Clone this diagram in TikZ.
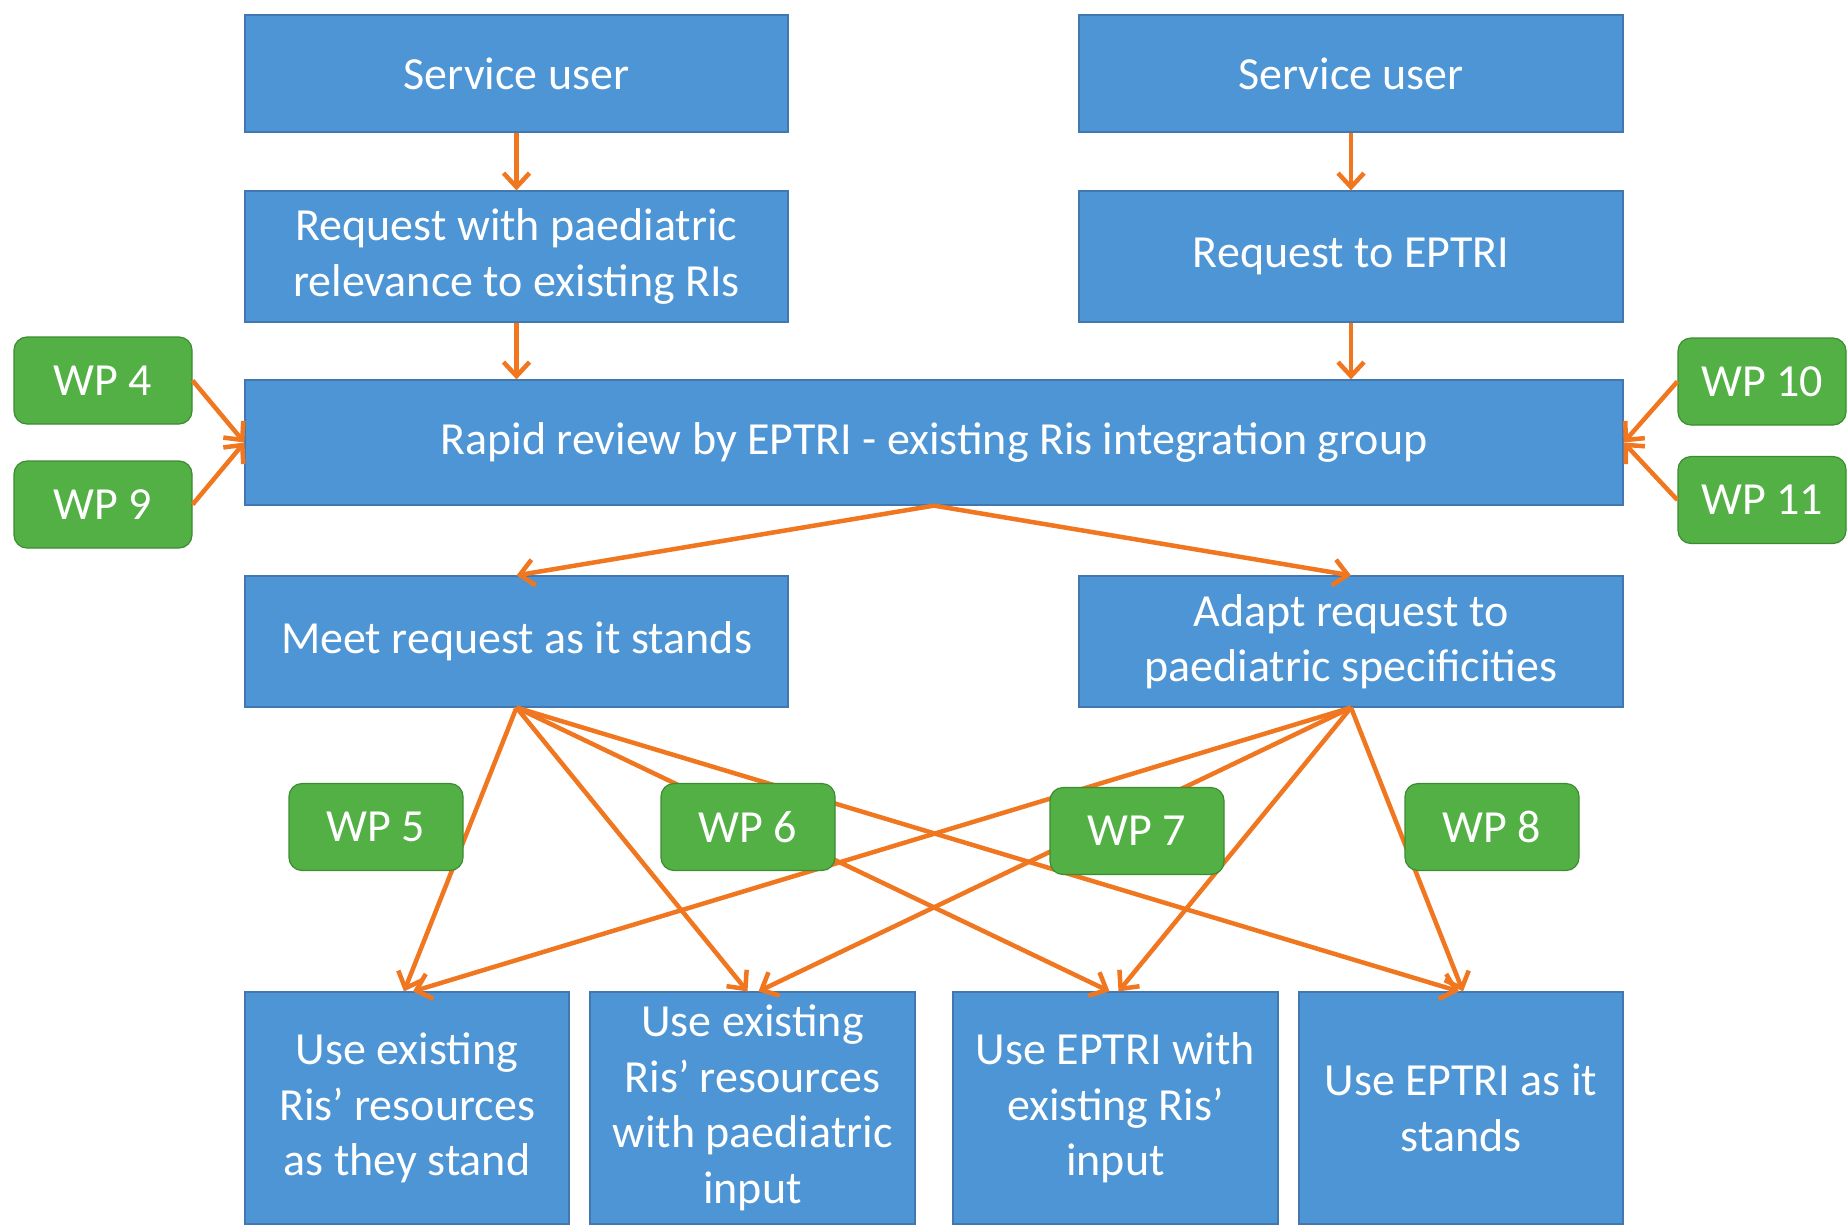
\documentclass[tikz,border=0pt]{standalone}
\usepackage{fontspec}
\setmainfont{Carlito}
\usetikzlibrary{arrows.meta}
\definecolor{boxblue}{RGB}{78,149,213}
\definecolor{boxedge}{RGB}{65,120,175}
\definecolor{wpgreen}{RGB}{82,176,68}
\definecolor{wpedge}{RGB}{60,140,50}
\definecolor{arr}{RGB}{240,118,32}
\tikzset{
  bluebox/.style={rectangle, fill=boxblue, draw=boxedge, line width=1.2pt, inner sep=0pt,
    text=white, align=center, font=\fontsize{46}{55.5}\selectfont,
    execute at begin node={\vspace*{9pt}}},
  wpbox/.style={rectangle, rounded corners=13pt, fill=wpgreen, draw=wpedge, line width=1.2pt,
    inner sep=0pt, minimum width=174pt, minimum height=87pt, text=white,
    font=\fontsize{46}{50}\selectfont},
  flow/.style={draw=arr, line width=4.5pt, -{Straight Barb[length=14pt,width=26pt,line width=4.5pt]}},
}
\begin{document}
\begin{tikzpicture}[x=1pt,y=-1pt]
\useasboundingbox (0,0) rectangle (1847,1224);
\fill[white] (0,0) rectangle (1847,1224);
% top blue boxes
\node[bluebox, minimum width=543pt, minimum height=117pt] (su1) at (516.5,73.5) {Service user};
\node[bluebox, minimum width=543pt, minimum height=131pt] (req1) at (516.5,256.5) {Request with paediatric\\relevance to existing RIs};
\node[bluebox, minimum width=544pt, minimum height=117pt] (su2) at (1351,73.5) {Service user};
\node[bluebox, minimum width=544pt, minimum height=131pt] (req2) at (1351,256.5) {Request to EPTRI};
\node[bluebox, minimum width=1378pt, minimum height=125pt] (rapid) at (934,442.5) {Rapid review by EPTRI - existing Ris integration group};
\node[bluebox, minimum width=543pt, minimum height=131pt] (meet) at (516.5,641.5) {Meet request as it stands};
\node[bluebox, minimum width=544pt, minimum height=131pt] (adapt) at (1351,641.5) {Adapt request to\\paediatric specificities};
% bottom boxes
\node[bluebox, minimum width=324pt, minimum height=232pt] (b1) at (407,1108) {Use existing\\Ris’ resources\\as they stand};
\node[bluebox, minimum width=325pt, minimum height=232pt] (b2) at (752.5,1108) {Use existing\\Ris’ resources\\with paediatric\\input};
\node[bluebox, minimum width=325pt, minimum height=232pt] (b3) at (1115.5,1108) {Use EPTRI with\\existing Ris’\\input};
\node[bluebox, minimum width=324pt, minimum height=232pt] (b4) at (1461,1108) {Use EPTRI as it\\stands};
% side WP boxes
\node[wpbox, minimum width=178pt] (wp4) at (103,380.5) {WP 4};
\node[wpbox, minimum width=178pt] (wp9) at (103,504.5) {WP 9};
\node[wpbox, minimum width=168pt] (wp10) at (1762,381.5) {WP 10};
\node[wpbox, minimum width=168pt] (wp11) at (1762,500) {WP 11};
% vertical flows
\draw[flow] (su1.south) -- (req1.north);
\draw[flow] (su2.south) -- (req2.north);
\draw[flow] (req1.south) -- (rapid.north -| req1.south);
\draw[flow] (req2.south) -- (rapid.north -| req2.south);
\draw[flow] (rapid.south) -- (meet.north);
\draw[flow] (rapid.south) -- (adapt.north);
\draw[flow] (wp4.east) -- (rapid.west);
\draw[flow] (wp9.east) -- (rapid.west);
\draw[flow] (wp10.west) -- (rapid.east);
\draw[flow] (wp11.west) -- (rapid.east);
% fan out
\draw[flow] (meet.south) -- ([xshift=-3pt]b1.north);
\draw[flow] (meet.south) -- ([xshift=-5pt]b2.north);
\draw[flow] (meet.south) -- ([xshift=-6pt]b3.north);
\draw[flow] (meet.south) -- ([xshift=-2pt]b4.north);
\draw[flow] (adapt.south) -- ([xshift=6pt]b1.north);
\draw[flow] (adapt.south) -- ([xshift=6pt]b2.north);
\draw[flow] (adapt.south) -- ([xshift=3pt]b3.north);
\draw[flow] (adapt.south) -- ([xshift=2pt]b4.north);
% middle WP boxes on top of lines
\node[wpbox] (wp5) at (376,827) {WP 5};
\node[wpbox] (wp6) at (748,827) {WP 6};
\node[wpbox] (wp7) at (1137,831) {WP 7};
\node[wpbox] (wp8) at (1492,827) {WP 8};
\end{tikzpicture}
\end{document}
